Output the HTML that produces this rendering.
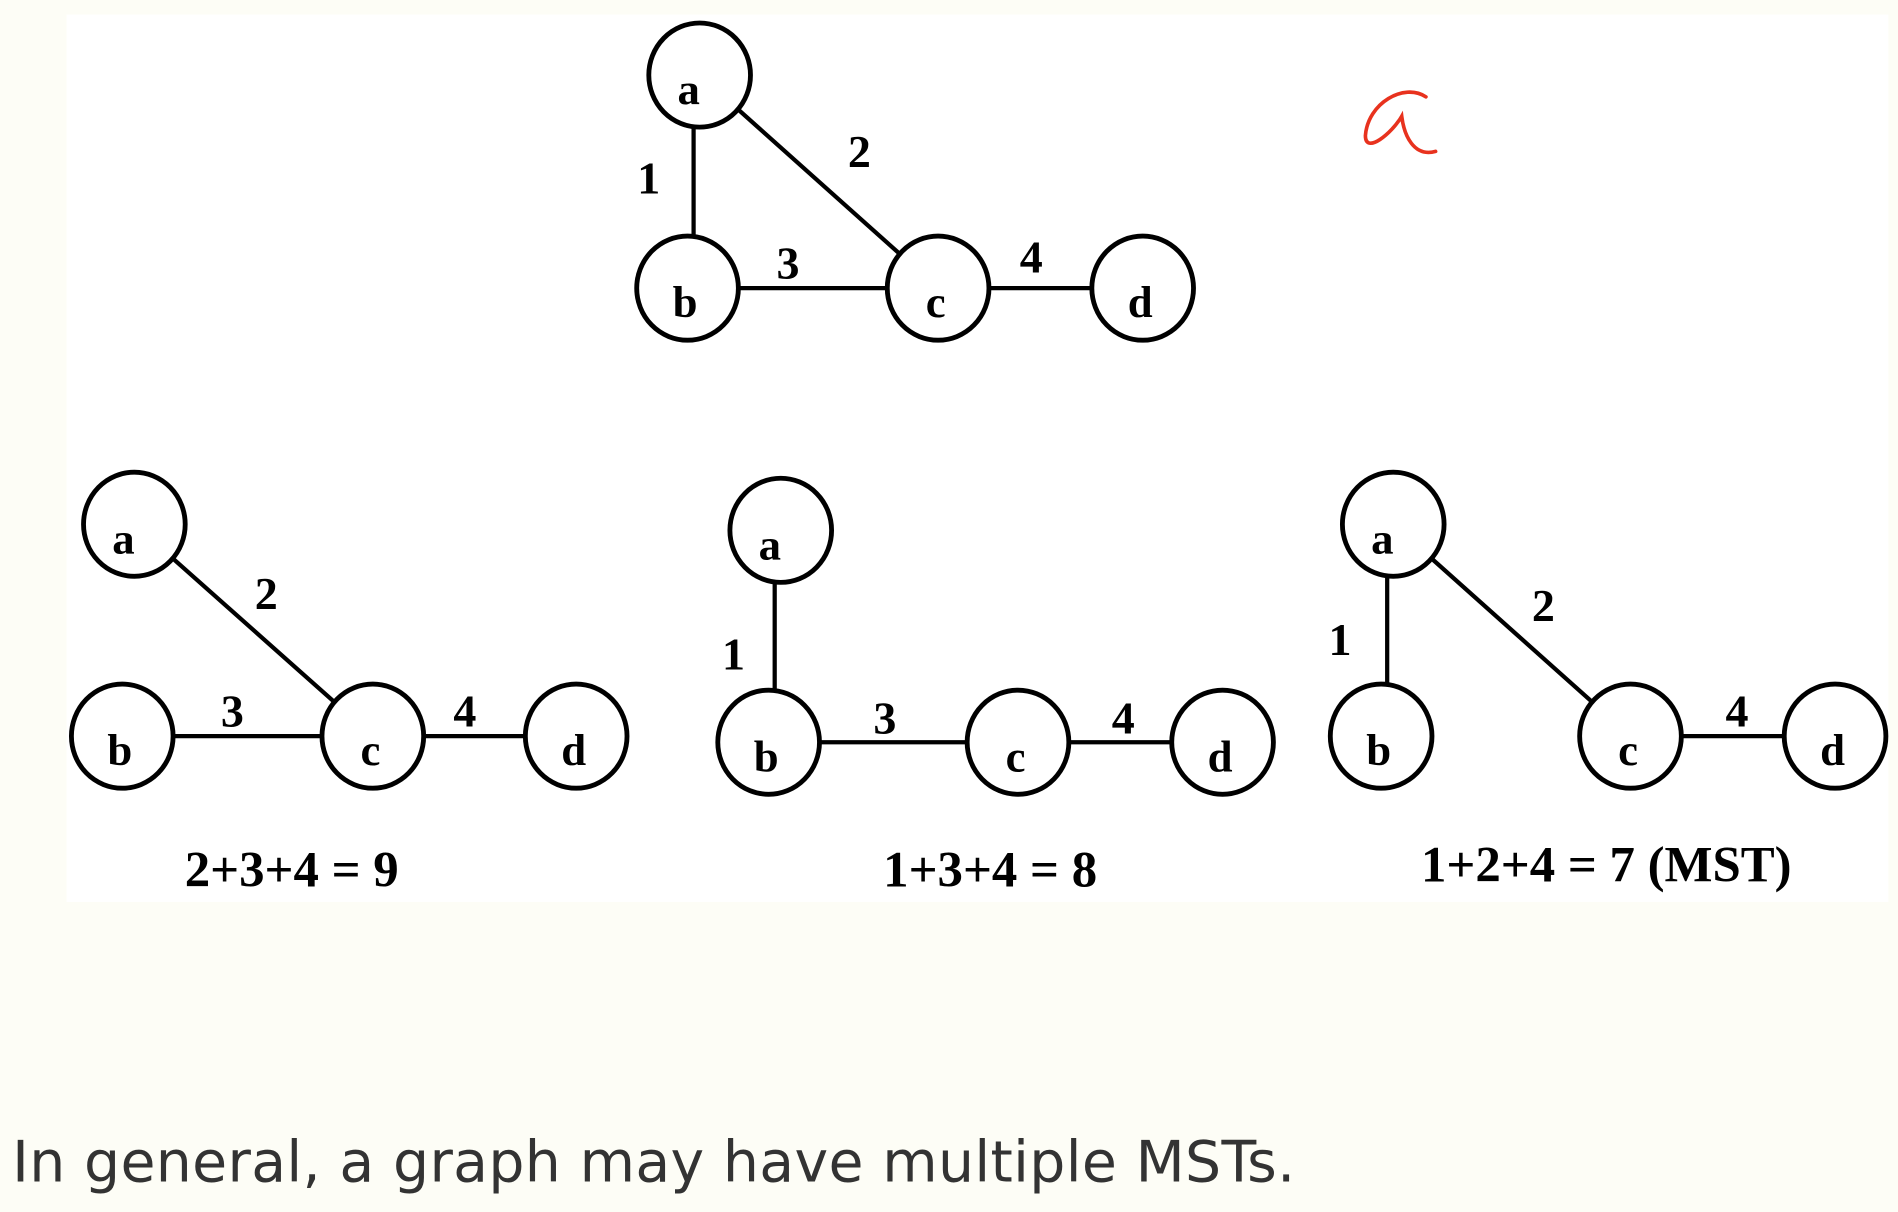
<!DOCTYPE html>
<html><head><meta charset="utf-8"><style>
html,body{margin:0;padding:0;background:#fdfdf6;}
svg{display:block}
</style></head><body>
<svg id="s" width="1898" height="1212" viewBox="0 0 1568 1001" preserveAspectRatio="none" xmlns="http://www.w3.org/2000/svg">
<rect x="0" y="0" width="1568" height="1001" fill="#fdfdf6"/>
<rect x="55" y="12" width="1505" height="733" fill="#ffffff"/>
<path d="M1178,80 C1160,68 1130,85 1128,112 C1128,128 1150,110 1158,96 C1160,112 1168,130 1186,125" fill="none" stroke="#e8321e" stroke-width="3" stroke-linecap="round"/>
<g id="g"></g>
<text x="10" y="976" font-family="'DejaVu Sans','Liberation Sans',sans-serif" font-size="47" textLength="1060" fill="#333">In general, a graph may have multiple MSTs.</text>
</svg>
<script>
const NS='http://www.w3.org/2000/svg';
const graphNames=['full-graph','tree-one','tree-two','tree-mst'];
const nodeLabels=['a','b','c','d'];
const nodePos=[
 [[578,62],[568,238],[775,238],[944,238]],
 [[111,433],[101,608],[308,608],[476,608]],
 [[645,438],[635,613],[841,613],[1010,613]],
 [[1151,433],[1141,608],[1347,608],[1516,608]]
];
const edges=[
 [[0,1,'1',536,160],[0,2,'2',710,138],[1,2,'3',651,230],[2,3,'4',852,225]],
 [[0,2,'2',220,503],[1,2,'3',192,600],[2,3,'4',384,600]],
 [[0,1,'1',606,553],[1,2,'3',731,606],[2,3,'4',928,606]],
 [[0,1,'1',1107,541],[0,2,'2',1275,513],[2,3,'4',1435,600]]
];
const sums=[null,['2+3+4 = 9',241,732],['1+3+4 = 8',818,732],['1+2+4 = 7 (MST)',1327,728]];
const root=document.getElementById('g');
function mk(t,a){const e=document.createElementNS(NS,t);for(const k in a)e.setAttribute(k,a[k]);return e;}
graphNames.forEach((gn,gi)=>{
 const grp=mk('g',{});
 
 
 root.appendChild(grp);
 const P=nodePos[gi];
 edges[gi].forEach(e=>{
  let x1=P[e[0]][0],x2=P[e[1]][0];
  if(e[0]==0&&e[1]==1){const m=(x1+x2)/2;x1=m;x2=m;}
  const l=mk('line',{x1:x1,y1:P[e[0]][1],x2:x2,y2:P[e[1]][1],stroke:'#000','stroke-width':3.5});
  
  
  grp.appendChild(l);
  const t=mk('text',{x:e[3],y:e[4],'text-anchor':'middle','font-family':"'Liberation Serif',serif",'font-size':38,'font-weight':'bold'});
  t.textContent=e[2];
  
  
  grp.appendChild(t);
 });
 P.forEach((p,i)=>{
  const c=mk('ellipse',{cx:p[0],cy:p[1],rx:42,ry:43,fill:'#fff',stroke:'#000','stroke-width':4});
  
  
  grp.appendChild(c);
  const t=mk('text',{x:p[0]-9+(i==0?0:7),y:p[1]+(i==0?24:24),'text-anchor':'middle','font-family':"'Liberation Serif',serif",'font-size':37,'font-weight':'bold'});
  t.textContent=nodeLabels[i];
  
  
  grp.appendChild(t);
 });
 if(sums[gi]){
  const s=sums[gi];
  const t=mk('text',{x:s[1],y:s[2],'text-anchor':'middle','font-family':"'Liberation Serif',serif",'font-size':42,'font-weight':'bold'});
  t.textContent=s[0];
  
  
  grp.appendChild(t);
 }
});
</script>
</body></html>
